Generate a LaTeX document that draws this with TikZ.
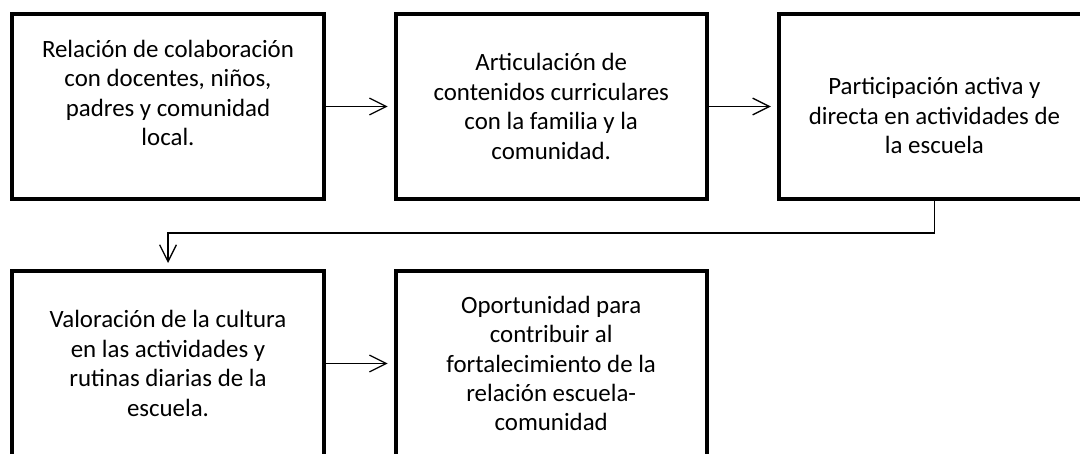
\documentclass[tikz,border=0pt]{standalone}
\usepackage{fontspec}
\setmainfont{Carlito}
\usepackage{tikz}
\usetikzlibrary{arrows.meta,positioning,calc}
\tikzset{
  bx/.style={draw=black, line width=0.1cm, minimum width=7.78cm, minimum height=4.625cm,
      outer sep=0pt, inner sep=0pt, align=center, font=\fontsize{17.7}{20.9}\selectfont},
  arr/.style={-{Straight Barb[length=4.2mm, width=4.2mm]}, line width=0.9pt, shorten >=0.2cm},
}

\begin{document}
\begin{tikzpicture}[node distance=1.8cm]
\useasboundingbox (0,0) rectangle (27,11.35);
\clip (0,0) rectangle (27,11.35);
\node[bx] (rel) at (4.2,8.6875) {Relación de colaboración\\con docentes, niños,\\padres y comunidad\\local.\\[-8pt]\strut};
\node[bx, right=of rel] (art) {Articulación de\\contenidos curriculares\\con la familia y la\\comunidad.};
\node[bx, right=of art] (par) {\strut\\[-10pt]Participación activa y\\directa en actividades de\\la escuela};
\node[bx, below=of rel] (val) {Valoración de la cultura\\en las actividades y\\rutinas diarias de la\\escuela.};
\node[bx, right=of val] (opo) {Oportunidad para\\contribuir al\\fortalecimiento de la\\relación escuela-\\comunidad};
\draw[arr] (rel) -- (art);
\draw[arr] (art) -- (par);
\draw[arr] (par.south) -- ++(0,-0.85) -| (val.north);
\draw[arr] (val) -- (opo);
\end{tikzpicture}
\end{document}
